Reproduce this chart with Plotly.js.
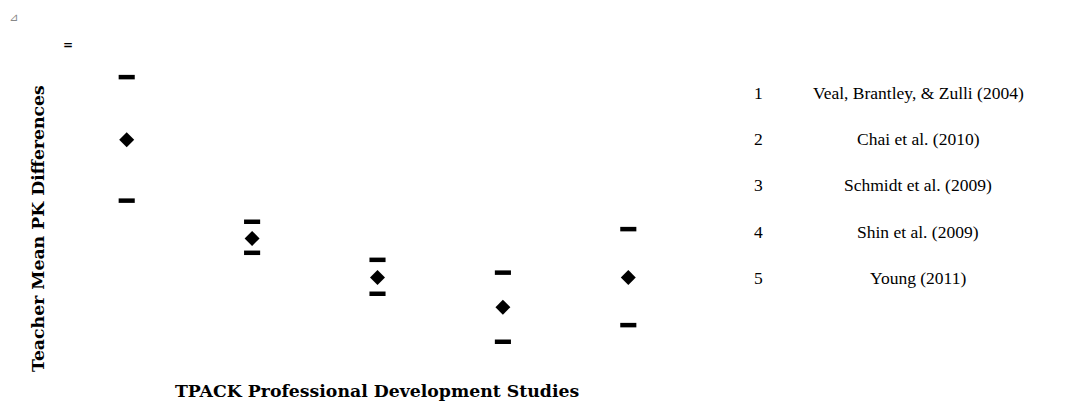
<!DOCTYPE html>
<html>
<head>
<meta charset="utf-8">
<script src="https://cdn.plot.ly/plotly-3.0.1.min.js"></script>
<style>html,body{margin:0;padding:0;background:#fff;}#chart{width:1079px;height:405px;}</style>
</head>
<body>
<div id="chart"></div>
<script>
// Data (arbitrary units; the original has no axis scale)
const studyIds = [1, 2, 3, 4, 5];
const studyNames = [
  "Veal, Brantley, & Zulli (2004)",
  "Chai et al. (2010)",
  "Schmidt et al. (2009)",
  "Shin et al. (2009)",
  "Young (2011)"
];
const highValues = [8.84, 4.32, 3.13, 2.73, 4.09];
const meanValues = [6.88, 3.80, 2.58, 1.65, 2.58];
const lowValues  = [4.98, 3.35, 2.07, 0.57, 1.09];

const xTitle = "TPACK Professional Development Studies";
const yTitle = "Teacher Mean PK Differences";

const dashMarker = {symbol: "line-ew", size: 11.5, color: "#000", line: {color: "#000", width: 4.5}};

const traces = [
  {x: studyIds, y: highValues, type: "scatter", mode: "markers", marker: dashMarker, hoverinfo: "y", name: "High"},
  {x: studyIds, y: lowValues, type: "scatter", mode: "markers", marker: dashMarker, hoverinfo: "y", name: "Low"},
  {x: studyIds, y: meanValues, type: "scatter", mode: "markers",
   marker: {symbol: "diamond", size: 11.5, color: "#000", line: {width: 0}}, hoverinfo: "y", name: "Mean"}
];

const L = 64, R = 388, T = 40, B = 45;
const W = 1079, H = 405;
const pw = W - L - R, ph = H - T - B;
const px2x = p => (p - L) / pw;
const py2y = p => (H - B - p) / ph;

const titleFont = {family: "DejaVu Serif", size: 17.3, color: "#000", weight: "bold"};
const tableFont = {family: "Liberation Serif", size: 17.5, color: "#000"};

const annotations = [
  {text: yTitle, xref: "paper", yref: "paper", x: px2x(38), y: py2y(229), showarrow: false,
   textangle: -90, font: titleFont, xanchor: "center", yanchor: "middle"},
  {text: xTitle, xref: "paper", yref: "paper", x: px2x(377), y: py2y(391), showarrow: false,
   font: titleFont, xanchor: "center", yanchor: "middle"},
  {text: "=", xref: "paper", yref: "paper", x: px2x(68), y: py2y(45), showarrow: false,
   font: {family: "DejaVu Sans", size: 12, color: "#000", weight: "bold"}, xanchor: "center", yanchor: "middle"},
  {text: "⊿", xref: "paper", yref: "paper", x: px2x(13), y: py2y(18), showarrow: false,
   font: {family: "DejaVu Sans", size: 11, color: "#888"}, xanchor: "center", yanchor: "middle"}
];
studyIds.forEach((id, i) => {
  const rowY = py2y(93 + i * 46.2);
  annotations.push({text: String(id), xref: "paper", yref: "paper", x: px2x(758), y: rowY, showarrow: false,
    font: tableFont, xanchor: "center", yanchor: "middle"});
  annotations.push({text: studyNames[i], xref: "paper", yref: "paper", x: px2x(918), y: rowY, showarrow: false,
    font: tableFont, xanchor: "center", yanchor: "middle"});
});

const layout = {
  width: W, height: H,
  margin: {l: L, r: R, t: T, b: B, pad: 0},
  paper_bgcolor: "#fff", plot_bgcolor: "#fff",
  showlegend: false,
  xaxis: {range: [0.5, 5.5], visible: false, fixedrange: true},
  yaxis: {range: [0, 10], visible: false, fixedrange: true},
  annotations: annotations
};

Plotly.newPlot("chart", traces, layout, {displayModeBar: false, staticPlot: true});
</script>
</body>
</html>
